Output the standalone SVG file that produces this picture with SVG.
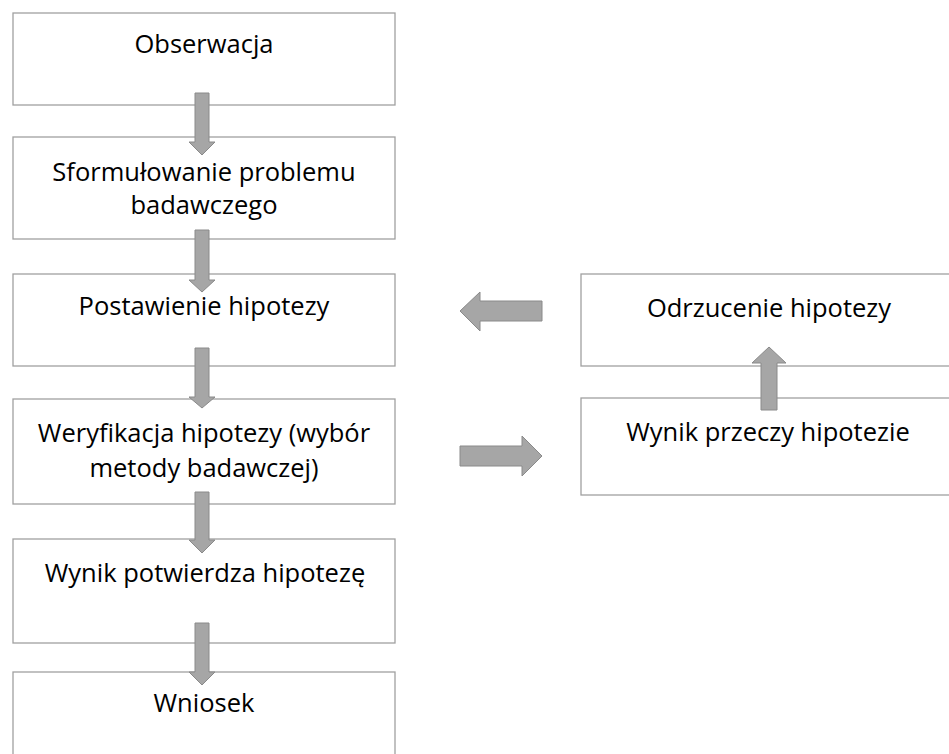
<svg xmlns="http://www.w3.org/2000/svg" width="949" height="754" viewBox="0 0 949 754">
<style>
.box{fill:#ffffff;stroke:#a0a0a0;stroke-width:1.3}
.lbl{font-family:"Open Sans","Liberation Sans",sans-serif;font-size:25.5px;fill:#000000;text-anchor:middle}
.arr{fill:#a6a6a6;stroke:#8a8a8a;stroke-width:1}
</style>
<rect width="949" height="754" fill="#ffffff"/>
<g id="n1"><rect class="box" x="13" y="13" width="382" height="92"/><text class="lbl" x="204" y="53">Obserwacja</text></g>
<g id="n2"><rect class="box" x="13" y="137" width="382" height="102"/><text class="lbl" x="204" y="181">Sformułowanie problemu</text><text class="lbl" x="204" y="214">badawczego</text></g>
<g id="n3"><rect class="box" x="13" y="274" width="382" height="92"/><text class="lbl" x="204" y="315">Postawienie hipotezy</text></g>
<g id="n4"><rect class="box" x="13" y="399" width="382" height="105"/><text class="lbl" x="204" y="442">Weryfikacja hipotezy (wybór</text><text class="lbl" x="204" y="477">metody badawczej)</text></g>
<g id="n5"><rect class="box" x="13" y="539" width="382" height="104"/><text class="lbl" x="205" y="582">Wynik potwierdza hipotezę</text></g>
<g id="n6"><rect class="box" x="13" y="672" width="382" height="100"/><text class="lbl" x="204" y="712">Wniosek</text></g>
<g id="n7"><rect class="box" x="581" y="274" width="380" height="92"/><text class="lbl" x="769" y="317">Odrzucenie hipotezy</text></g>
<g id="n8"><rect class="box" x="581" y="398" width="380" height="97"/><text class="lbl" x="768" y="441">Wynik przeczy hipotezie</text></g>
<g id="connectors">
<path class="arr" d="M195,93 H209 V142 H215 L202,155 L189,142 H195 Z"/>
<path class="arr" d="M195,230 H209 V280 H215 L202,292 L189,280 H195 Z"/>
<path class="arr" d="M195,348 H209 V397 H215 L202,408 L189,397 H195 Z"/>
<path class="arr" d="M195,492 H209 V540 H215 L202,553 L189,540 H195 Z"/>
<path class="arr" d="M195,623 H209 V672 H215 L202,685 L189,672 H195 Z"/>
<path class="arr" d="M542,301 V321 H480 V331 L460,311 L480,292 V301 Z"/>
<path class="arr" d="M460,446 H522 V436 L542,456 L522,476 V466 H460 Z"/>
<path class="arr" d="M761,410 V363 H752 L769,347 L786,363 H777 V410 Z"/>
</g>
</svg>
